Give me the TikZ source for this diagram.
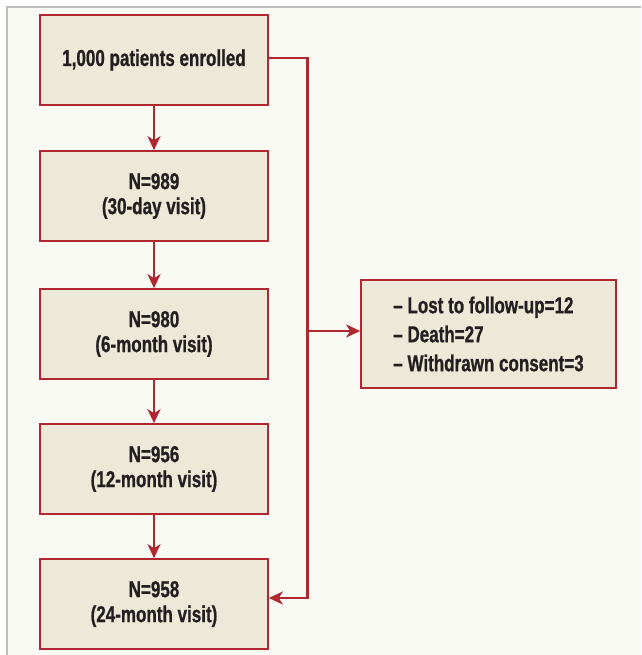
\documentclass[tikz,border=0pt]{standalone}
\usepackage{fontspec}
\setmainfont{Liberation Sans}[FakeStretch=0.74, BoldFeatures={FakeBold=0.8}]
\usetikzlibrary{positioning, arrows.meta}

\definecolor{boxred}{HTML}{B0272F}
\definecolor{boxfill}{HTML}{ECE9D8}
\definecolor{pagebg}{HTML}{FAFAF5}
\definecolor{framegray}{HTML}{BDBDBD}
\definecolor{txtdark}{HTML}{231F20}

\begin{document}
\begin{tikzpicture}[x=1pt, y=1pt,
    stage/.style={draw=boxred, line width=1.6pt, fill=boxfill, minimum width=228pt, minimum height=90pt,
                  align=center, text=txtdark, font=\bfseries\fontsize{23}{25}\selectfont},
    lossbox/.style={draw=boxred, line width=1.6pt, fill=boxfill, minimum width=255pt, minimum height=108pt,
                    align=left, text=txtdark, font=\bfseries\fontsize{23}{29}\selectfont},
    flow/.style={draw=boxred, line width=2.8pt, -{Stealth[length=14pt, width=13pt, inset=4pt]}}]
             \useasboundingbox (0,0) rectangle (641,655);
             \fill[white] (0,0) rectangle (641,655);
             \fill[pagebg] (7,0) rectangle (641,648);
             \draw[framegray, line width=1.5pt] (7,0) -- (7,648) -- (641,648);
             % visits
             \node[stage] (enrol) at (154,595) {1,000 patients enrolled};
             \node[stage, below=44.4pt of enrol] (visit30) {N=989\\(30-day visit)};
             \node[stage, below=46.4pt of visit30] (visit6) {N=980\\(6-month visit)};
             \node[stage, below=43.4pt of visit6] (visit12) {N=956\\(12-month visit)};
             \node[stage, below=43.4pt of visit12] (visit24) {N=958\\(24-month visit)};
             \node[lossbox, right=91.4pt of visit6] (losses) {-- Lost to follow-up=12\\-- Death=27\\-- Withdrawn consent=3};
             % arrows
             \draw[flow] (enrol) -- (visit30);
             \draw[flow] (visit30) -- (visit6);
             \draw[flow] (visit6) -- (visit12);
             \draw[flow] (visit12) -- (visit24);
             \coordinate (bus) at ([xshift=39pt, yshift=2pt]enrol.east);
             \draw[flow] ([yshift=2pt]enrol.east) -- (bus) |- ([yshift=6pt]visit24.east);
             \draw[flow] ([yshift=3pt]losses.west -| bus) -- ([yshift=3pt]losses.west);
         \end{tikzpicture}
\end{document}
